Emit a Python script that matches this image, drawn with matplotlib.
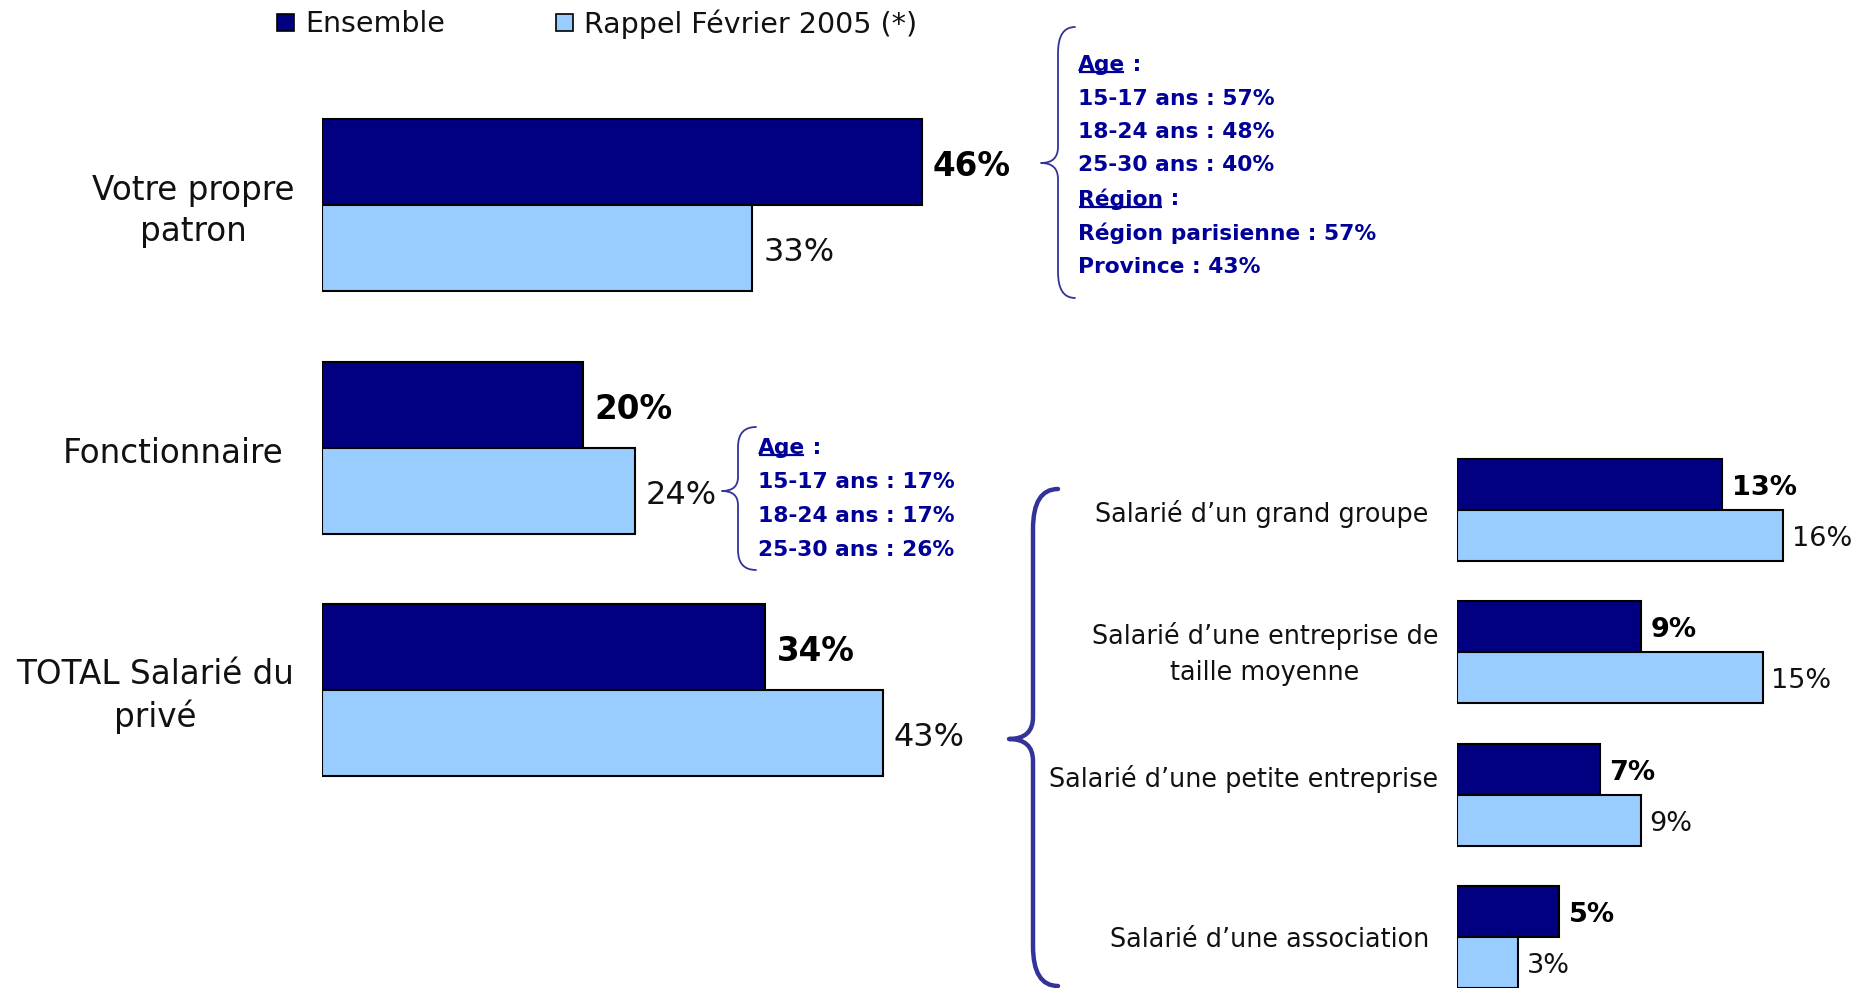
import matplotlib
matplotlib.use("Agg")
import matplotlib.pyplot as plt
from matplotlib.path import Path
from matplotlib.patches import PathPatch, Rectangle
import matplotlib.transforms as mtransforms

# ---------------- data ----------------
main_categories = ["Votre propre\npatron", "Fonctionnaire", "TOTAL Salarié du\nprivé"]
main_ensemble = [46, 20, 34]
main_rappel = [33, 24, 43]

sub_categories = ["Salarié d\u2019un grand groupe",
                  "Salarié d\u2019une entreprise de\ntaille moyenne",
                  "Salarié d\u2019une petite entreprise",
                  "Salarié d\u2019une association"]
sub_ensemble = [13, 9, 7, 5]
sub_rappel = [16, 15, 9, 3]

series_names = ["Ensemble", "Rappel Février 2005 (*)"]

note_patron = [("Age", " :"), ("15-17 ans : 57%", None), ("18-24 ans : 48%", None),
               ("25-30 ans : 40%", None), ("Région", " :"),
               ("Région parisienne : 57%", None), ("Province : 43%", None)]
note_fonct = [("Age", " :"), ("15-17 ans : 17%", None), ("18-24 ans : 17%", None),
              ("25-30 ans : 26%", None)]

# ---------------- style ----------------
DARK = "#000080"
LIGHT = "#99CCFF"
NOTE = "#000099"
BRACE = "#333399"
W, H = 1870, 988
plt.rcParams['font.family'] = ['DejaVu Sans']

fig = plt.figure(figsize=(W / 100, H / 100), dpi=100)


def px_axes(x0, ytop, w, h, **kw):
    return fig.add_axes([x0 / W, 1 - (ytop + h) / H, w / W, h / H], **kw)


# overlay in pixel coordinates (y downwards)
ov = px_axes(0, 0, W, H)
ov.set_xlim(0, W)
ov.set_ylim(H, 0)
ov.axis("off")
ov.set_zorder(5)
ov.patch.set_alpha(0)

# ---------------- main bars ----------------
sp_main = 242.5
axL = px_axes(322, 205 - sp_main / 2, 13.04 * 50, sp_main * 3)
axL.set_xlim(0, 50)
axL.set_ylim(2.5, -0.5)
axL.axis("off")
hL = 86 / sp_main
yL = list(range(len(main_categories)))
axL.barh([y - hL / 2 for y in yL], main_ensemble, height=hL, color=DARK,
         edgecolor="black", linewidth=1.5)
axL.barh([y + hL / 2 for y in yL], main_rappel, height=hL, color=LIGHT,
         edgecolor="black", linewidth=1.5)
for y, a, b in zip(yL, main_ensemble, main_rappel):
    axL.annotate(f"{a}%", xy=(a, y - hL / 2), xytext=(8, -3.5), textcoords="offset points",
                 va="center", ha="left", fontsize=23.5, fontweight="bold", color="black")
    axL.annotate(f"{b}%", xy=(b, y + hL / 2), xytext=(8, -3.5), textcoords="offset points",
                 va="center", ha="left", fontsize=23, color="#111111")

blendL = mtransforms.blended_transform_factory(ov.transData, axL.transData)
left_label_x = [193, 173, 155]
for y, lab, lx in zip(yL, main_categories, left_label_x):
    ov.text(lx, y + 0.025, lab, transform=blendL, ha="center", va="center",
            multialignment="center", fontsize=23.5, linespacing=1.33, color="#111111")

# ---------------- sub bars ----------------
sp_sub = 142.3
axR = px_axes(1457, 510 - sp_sub / 2, 20.4 * 20, sp_sub * 4)
axR.set_xlim(0, 20)
axR.set_ylim(3.5, -0.5)
axR.axis("off")
hR = 51 / sp_sub
yR = list(range(len(sub_categories)))
axR.barh([y - hR / 2 for y in yR], sub_ensemble, height=hR, color=DARK,
         edgecolor="black", linewidth=1.5)
axR.barh([y + hR / 2 for y in yR], sub_rappel, height=hR, color=LIGHT,
         edgecolor="black", linewidth=1.5)
for y, a, b in zip(yR, sub_ensemble, sub_rappel):
    axR.annotate(f"{a}%", xy=(a, y - hR / 2), xytext=(7, -2.5), textcoords="offset points",
                 va="center", ha="left", fontsize=19.5, fontweight="bold", color="black")
    axR.annotate(f"{b}%", xy=(b, y + hR / 2), xytext=(6, -2.5), textcoords="offset points",
                 va="center", ha="left", fontsize=19.5, color="#111111")

blendR = mtransforms.blended_transform_factory(ov.transData, axR.transData)
right_label_dy = [0.025, 0.015, -0.11, 0.025]
right_label_x = [1428, 1438, 1438, 1429]
for y, lab, dy, lx in zip(yR, sub_categories, right_label_dy, right_label_x):
    ov.text(lx, y + dy, lab, transform=blendR, ha="right", va="center",
            multialignment="center", fontsize=18.4, linespacing=1.5, color="#111111")

# ---------------- legend ----------------
for (sx, tx), col, name in zip([(277, 305), (556, 584)], [DARK, LIGHT], series_names):
    ov.add_patch(Rectangle((sx, 14), 17, 17, facecolor=col, edgecolor="black", lw=1.2))
    ov.text(tx, 24, name, ha="left", va="center", fontsize=20.5, color="#111111")


# ---------------- braces ----------------
def brace(xt, xs, xe, yt, yb, ym, r, rt, lw):
    verts = [(xe, yt), (xs, yt), (xs, yt + r),
             (xs, ym - rt), (xs, ym), (xt, ym),
             (xs, ym), (xs, ym + rt),
             (xs, yb - r), (xs, yb), (xe, yb)]
    codes = [Path.MOVETO, Path.CURVE3, Path.CURVE3,
             Path.LINETO, Path.CURVE3, Path.CURVE3,
             Path.CURVE3, Path.CURVE3,
             Path.LINETO, Path.CURVE3, Path.CURVE3]
    ov.add_patch(PathPatch(Path(verts, codes), facecolor="none", edgecolor=BRACE,
                           lw=lw, capstyle="round", joinstyle="round"))


brace(1041, 1058, 1075, 27, 298, 163, 26, 16, 1.3)
brace(722, 738, 756, 427, 570, 491, 20, 14, 1.3)
brace(1009, 1033, 1058, 489, 986, 739, 40, 22, 3.2)

# ---------------- notes ----------------
renderer = fig.canvas.get_renderer()


def notes(x, ys, items):
    for y, (main, tail) in zip(ys, items):
        t = ov.text(x, y, main, ha="left", va="center", fontsize=15.7,
                    fontweight="bold", color=NOTE)
        if tail is not None:
            bb = t.get_window_extent(renderer=renderer)
            inv = ov.transData.inverted()
            (x0, yb0), (x1, yb1) = inv.transform([(bb.x0, bb.y0), (bb.x1, bb.y1)])
            yu = yb0 - 3
            ov.plot([x0 + 1, x1 - 1], [yu, yu], color=NOTE, lw=1.6,
                    solid_capstyle="butt")
            ov.text(x1, y, tail, ha="left", va="center", fontsize=15.7,
                    fontweight="bold", color=NOTE)


notes(1078, [65, 99, 132, 165, 199, 233, 267], note_patron)
notes(758, [448, 482, 516, 550], note_fonct)

fig.savefig("out.png", dpi=100)
